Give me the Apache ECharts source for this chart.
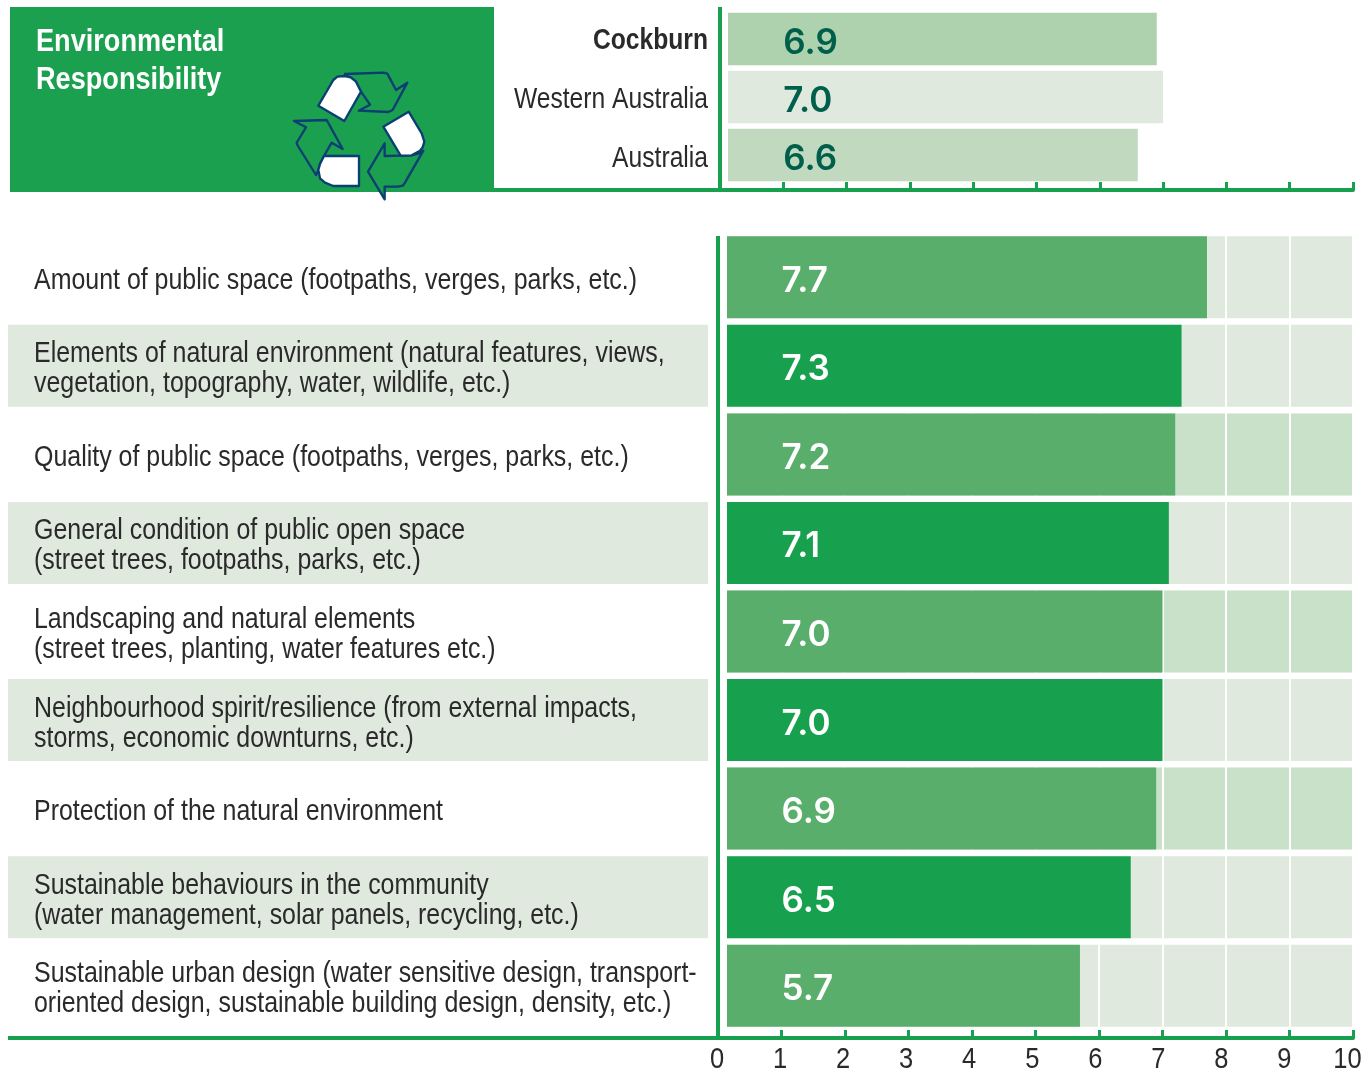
<!DOCTYPE html>
<html>
  <head>
    <meta charset="utf-8">
    <title>Environmental Responsibility</title>
    <style>
      html,body{margin:0;padding:0;background:#fff;}
      #main{width:1364px;height:1071px;}
    </style>
    <script src="https://cdn.jsdelivr.net/npm/echarts@6/dist/echarts.min.js"></script>
  </head>
  <body>
    <div id="main"></div>
    <script type="text/javascript">
      // benchmark rows (top chart)
      var regionNames = ['Cockburn', 'Western Australia', 'Australia']
      var regionScores = [6.9, 7.0, 6.6]

      // statement rows (bottom chart)
      var itemNames = [
        'Amount of public space (footpaths, verges, parks, etc.)',
        'Elements of natural environment (natural features, views,\nvegetation, topography, water, wildlife, etc.)',
        'Quality of public space (footpaths, verges, parks, etc.)',
        'General condition of public open space\n(street trees, footpaths, parks, etc.)',
        'Landscaping and natural elements\n(street trees, planting, water features etc.)',
        'Neighbourhood spirit/resilience (from external impacts,\nstorms, economic downturns, etc.)',
        'Protection of the natural environment',
        'Sustainable behaviours in the community\n(water management, solar panels, recycling, etc.)',
        'Sustainable urban design (water sensitive design, transport-\noriented design, sustainable building design, density, etc.)'
      ]
      var itemScores = [7.7, 7.3, 7.2, 7.1, 7.0, 7.0, 6.9, 6.5, 5.7]
      var scaleTicks = ['0', '1', '2', '3', '4', '5', '6', '7', '8', '9', '10']

      var GREEN = '#17a04d'
      var HEADER = '#1aa04e'
      var NAVY = '#0b3f73'
      var INK = '#2a2a2a'
      var SANS = '"Liberation Sans", sans-serif'
      // no condensed face is installed, so names are squeezed horizontally
      var SQUEEZE = 0.86
      var regionColors = ['#aed2ae', '#dfe9de', '#c1dabf']

      // value bars start a few px right of the zero line, the scale itself still starts at 0
      function barItem(gap, fill, textFill, fillRatio, api) {
        var i = api.value(1)
        var start = api.coord([0, i])
        var end = api.coord([api.value(0), i])
        var tickOne = api.coord([1, i])
        var h = api.size([0, 1])[1] * fillRatio
        return {
          type: 'group',
          children: [
            {
              type: 'rect',
              shape: { x: start[0] + gap, y: start[1] - h / 2, width: end[0] - start[0] - gap, height: h },
              style: { fill: fill }
            },
            {
              type: 'text',
              style: {
                x: tickOne[0], y: start[1] + 4,
                text: api.value(0).toFixed(1),
                fill: textFill,
                font: '600 35px Inter, sans-serif',
                textAlign: 'left', textVerticalAlign: 'middle'
              }
            }
          ]
        }
      }

      var regionData = regionScores.map(function (v, i) { return [v, i] })
      var itemData = itemScores.map(function (v, i) { return [v, i] })

      var axisBits = {
        axisLine: { show: true, onZero: false, lineStyle: { color: GREEN, width: 4 } },
        axisTick: { show: true, inside: true, length: 8, alignWithLabel: true, lineStyle: { color: GREEN, width: 3 } }
      }

      // recycling mark, traced at 3x
      var arrowOutlines = [
        [[195,222],[310,218],[322,221],[328,232],[348,270],[382,248],[338,330],[325,336],[236,332],[270,314],[243,275],[228,245],[212,232],[195,228]],
        [[430,452],[375,548],[368,557],[355,560],[314,560],[314,598],[264,515],[314,430],[314,468],[362,467],[395,466],[415,461]],
        [[108,525],[52,435],[50,428],[55,420],[78,382],[42,363],[140,360],[188,447],[155,428],[132,468],[120,492],[115,510]]
      ]
      var arrowTails = [
        [[115,317],[160,240],[172,230],[195,228],[212,232],[228,245],[243,275],[193,363]],
        [[310,380],[386,335],[425,400],[433,425],[428,442],[420,452],[395,466],[362,467]],
        [[237,468],[237,558],[160,558],[135,548],[120,535],[115,510],[120,492],[132,468]]
      ]

      function toPoly(points, fill, z) {
        return { type: 'polygon', z: z, shape: { points: points }, style: { fill: fill, stroke: NAVY, lineWidth: 7, lineJoin: 'round' } }
      }

      var myChart = echarts.init(document.getElementById('main'))
      myChart.setOption({
        animation: false,
        backgroundColor: '#fff',
        grid: [
          { left: 720, right: 11, top: 10, height: 174, outerBoundsMode: 'none' },
          { left: 718, right: 11, top: 233, height: 797, outerBoundsMode: 'none' }
        ],
        xAxis: [
          Object.assign({
            gridIndex: 0, type: 'value', min: 0, max: 10, interval: 1, position: 'bottom', offset: 6,
            axisLabel: { show: false }, splitLine: { show: false }
          }, axisBits),
          Object.assign({
            gridIndex: 1, type: 'value', min: 0, max: 10, interval: 1, position: 'bottom', offset: 8,
            axisLabel: { show: false },
            splitLine: { show: true, lineStyle: { color: '#fff', width: 2 } }
          }, axisBits)
        ],
        yAxis: [
          {
            gridIndex: 0, type: 'category', inverse: true, data: regionNames,
            axisLine: { show: false }, axisTick: { show: false }, axisLabel: { show: false }
          },
          {
            gridIndex: 1, type: 'category', inverse: true, data: itemNames,
            axisLine: { show: false }, axisTick: { show: false }, axisLabel: { show: false }
          }
        ],
        graphic: [
          // header block
          { type: 'rect', z: 5, shape: { x: 10, y: 7, width: 484, height: 185 }, style: { fill: HEADER } },
          {
            type: 'text', z: 6, x: 36, y: 23, scaleX: 0.875,
            style: { text: 'Environmental\nResponsibility', fill: '#fff', font: 'bold 31px ' + SANS, lineHeight: 38 }
          },
          {
            type: 'group', z: 6, x: 280, y: 0, scaleX: 1 / 3, scaleY: 1 / 3,
            children: arrowOutlines.map(function (p) { return toPoly(p, HEADER, 6) })
              .concat(arrowTails.map(function (p) { return toPoly(p, '#fff', 7) }))
          },
          // axis rules that run past the plot areas
          { type: 'rect', z: 3, shape: { x: 718, y: 7, width: 4, height: 183 }, style: { fill: GREEN } },
          { type: 'rect', z: 3, shape: { x: 494, y: 188, width: 228, height: 4 }, style: { fill: GREEN } },
          { type: 'rect', z: 3, shape: { x: 716, y: 236, width: 4, height: 802 }, style: { fill: GREEN } },
          { type: 'rect', z: 3, shape: { x: 8, y: 1036, width: 712, height: 4 }, style: { fill: GREEN } }
        ],
        series: [
          {
            // region names, right aligned against the axis
            type: 'custom', xAxisIndex: 0, yAxisIndex: 0, silent: true,
            data: regionData,
            renderItem: function (params, api) {
              var i = api.value(1)
              return {
                type: 'text', x: 708, y: api.coord([0, i])[1] + 2 + i, scaleX: 0.85,
                style: {
                  x: 0, y: 0, text: regionNames[i], fill: INK,
                  font: (i === 0 ? 'bold ' : '') + '29px ' + SANS,
                  textAlign: 'right', textVerticalAlign: 'middle'
                }
              }
            }
          },
          {
            // statement text with shading behind alternate rows
            type: 'custom', xAxisIndex: 1, yAxisIndex: 1, silent: true,
            data: itemData,
            renderItem: function (params, api) {
              var i = api.value(1)
              var y = api.coord([0, i])[1]
              var h = api.size([0, 1])[1] * 0.926
              var kids = [{
                type: 'text', x: 34, y: y + 3.5, scaleX: SQUEEZE, z2: 2,
                style: {
                  x: 0, y: 0, text: itemNames[i], fill: INK, font: '29px ' + SANS, lineHeight: 30,
                  textAlign: 'left', textVerticalAlign: 'middle'
                }
              }]
              if (i % 2 === 1) {
                kids.unshift({ type: 'rect', shape: { x: 8, y: y - h / 2, width: 700, height: h }, style: { fill: '#dfe9de' } })
              }
              return { type: 'group', children: kids }
            }
          },
          {
            // full scale track, the white split lines sit on top of it
            type: 'custom', xAxisIndex: 1, yAxisIndex: 1, z: -1, silent: true,
            data: itemData,
            renderItem: function (params, api) {
              var i = api.value(1)
              var a = api.coord([0, i])
              var b = api.coord([10, i])
              var h = api.size([0, 1])[1] * 0.926
              var tint = (i === 2 || i === 4 || i === 6) ? '#c9e0c9' : '#dfe9de'
              return { type: 'rect', shape: { x: a[0] + 9, y: a[1] - h / 2, width: b[0] - a[0] - 9, height: h }, style: { fill: tint } }
            }
          },
          {
            // scale numbers, squeezed like the names and drifting slightly left towards 10
            type: 'custom', xAxisIndex: 1, yAxisIndex: 1, silent: true,
            data: scaleTicks.map(function (t) { return [Number(t), 8] }),
            renderItem: function (params, api) {
              var v = api.value(0)
              return {
                type: 'text', x: api.coord([v, 8])[0] - 1 - v * 0.45, y: 1060, scaleX: 0.85,
                style: {
                  x: 0, y: 0, text: scaleTicks[v], fill: INK, font: '30px ' + SANS,
                  textAlign: 'center', textVerticalAlign: 'middle'
                }
              }
            }
          },
          {
            name: 'Region', type: 'custom', xAxisIndex: 0, yAxisIndex: 0, data: regionData, encode: { x: 0, y: 1 },
            renderItem: function (params, api) {
              return barItem(8, regionColors[api.value(1)], '#005f4b', 0.905, api)
            }
          },
          {
            name: 'Statement', type: 'custom', xAxisIndex: 1, yAxisIndex: 1, data: itemData, encode: { x: 0, y: 1 },
            renderItem: function (params, api) {
              return barItem(9, api.value(1) % 2 ? '#17a04d' : '#59ae6b', '#fff', 0.926, api)
            }
          }
        ]
      })
    </script>
  </body>
</html>
